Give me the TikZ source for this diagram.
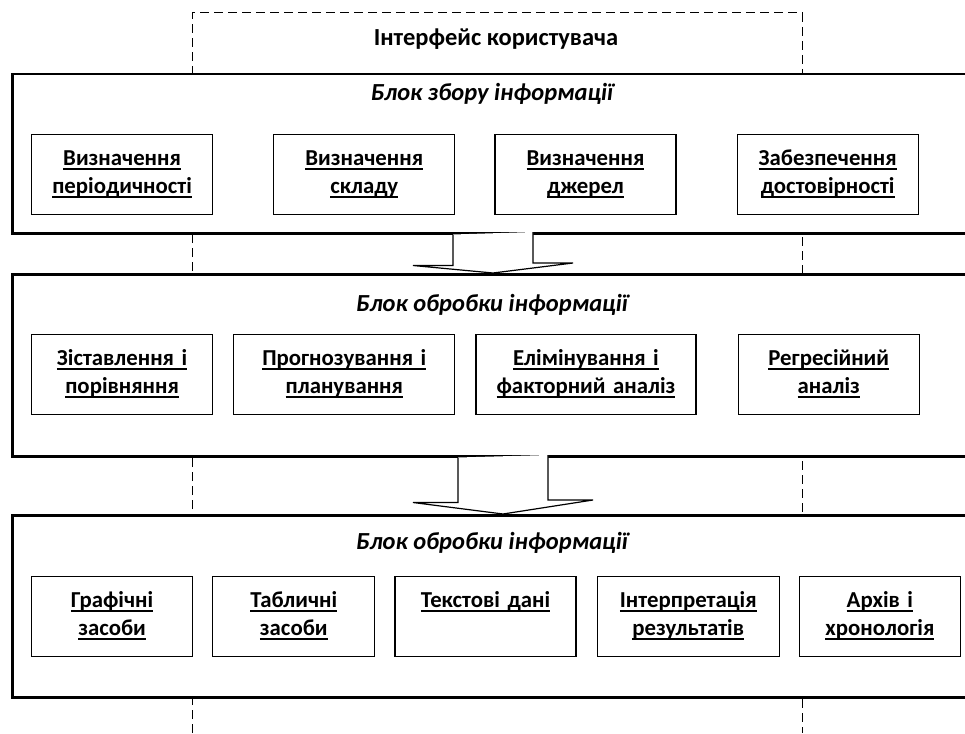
\documentclass[tikz,border=0pt]{standalone}
\usepackage{fontspec}
\setmainfont{Carlito}
\usepackage{tikz}
\usetikzlibrary{positioning,calc}

\newcommand{\uln}[1]{\setbox0\hbox{#1}\leavevmode\rlap{\rule[-4.4pt]{\wd0}{2pt}}\box0}

\begin{document}
\begin{tikzpicture}
			[x=1pt, y=-1pt,
			every node/.style={font=\fontsize{24.5}{28}\selectfont\bfseries},
			block/.style={rectangle, draw, fill=white, line width=2.5pt,
				anchor=north west, minimum width=975pt, minimum height=159pt,
				inner sep=0pt},
			blocktitle/.style={anchor=base, font=\fontsize{24.5}{28}\selectfont\bfseries\itshape},
			part/.style={rectangle, draw, fill=white, line width=1.2pt,
				align=center, inner sep=0pt, text width=#1,
				font=\fontsize{22.8}{28}\selectfont\bfseries,
				text height=31pt, text depth=49pt},
			part/.default=181pt,
			guide/.style={dashed, line width=1pt, dash pattern=on 9pt off 5pt},
			hollow/.style={draw, fill=white, line width=1.2pt, line join=miter},
			]
			\useasboundingbox (0,0) rectangle (965,733);
			\clip (0,0) rectangle (965,733);
			
			% user interface frame
			\draw[guide] (192,733) |- (802,13) -- (802,733);
			\node[anchor=base] (ui) at (496,46) {Інтерфейс користувача};
			
			% block 1
			\node[block] (gather) at (11,73) {};
			\node[blocktitle] (t1) at (492,101) {Блок збору інформації};
			\node[part, anchor=north west] (g1) at (31,134) {\uln{Визначення}\\\uln{періодичності}};
			\node[part, right=60pt of g1] (g2) {\uln{Визначення}\\\uln{складу}};
			\node[part, right=39pt of g2] (g3) {\uln{Визначення}\\\uln{джерел}};
			\node[part, right=60pt of g3] (g4) {\uln{Забезпечення}\\\uln{достовірності}};
			
			% block 2
			\node[block, minimum height=182pt] (process) at (11,273) {};
			\node[blocktitle] (t2) at (492,311) {Блок обробки інформації};
			\node[part, anchor=north west] (p1) at (31,334) {\uln{Зіставлення і}\\\uln{порівняння}};
			\node[part=221pt, right=20pt of p1] (p2) {\uln{Прогнозування і}\\\uln{планування}};
			\node[part=220pt, right=20pt of p2] (p3) {\uln{Елімінування і}\\\uln{факторний аналіз}};
			\node[part, right=41pt of p3] (p4) {\uln{Регресійний}\\\uln{аналіз}};
			
			% block 3
			\node[block, minimum height=182pt] (output) at (11,514) {};
			\node[blocktitle] (t3) at (492,549) {Блок обробки інформації};
			\node[part=161pt, anchor=north west] (o1) at (31,576) {\uln{Графічні}\\\uln{засоби}};
			\node[part=162pt, right=19pt of o1] (o2) {\uln{Табличні}\\\uln{засоби}};
			\node[part, right=19pt of o2] (o3) {\uln{Текстові дані}};
			\node[part=182pt, right=20pt of o3] (o4) {\uln{Інтерпретація}\\\uln{результатів}};
			\node[part=161pt, right=19pt of o4] (o5) {\uln{Архів і}\\\uln{хронологія}};
			
			% arrows between blocks
			\coordinate (a1) at (gather.south -| 493,0);
			\draw[hollow] (a1) ++(-40,0) -- ++(0,31) -- ++(-40,0) -- (a1 |- process.north)
				-- ++(80,-10) -- ++(-40,0) -- ++(0,-31);
			\coordinate (a2) at (process.south -| 503,0);
			\draw[hollow] (a2) ++(-45,0) -- ++(0,45) -- ++(-45,0) -- (a2 |- output.north)
				-- ++(90,-14) -- ++(-45,0) -- ++(0,-45);
			
		\end{tikzpicture}
\end{document}
